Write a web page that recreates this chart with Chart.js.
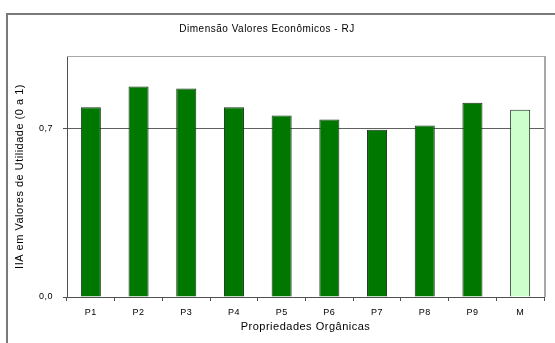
<!DOCTYPE html>
<html>
<head>
<meta charset="utf-8">
<script src="https://cdn.jsdelivr.net/npm/chart.js@4"></script>
<style>
  html, body { margin: 0; padding: 0; background: #fff; }
  #chart { display: block; }
</style>
</head>
<body>
<canvas id="chart" width="555" height="343"></canvas>
<script>
// Data
const categories = ['P1', 'P2', 'P3', 'P4', 'P5', 'P6', 'P7', 'P8', 'P9', 'M'];
const values = [0.787, 0.873, 0.865, 0.787, 0.753, 0.736, 0.694, 0.712, 0.806, 0.777];
const yTicks = [0, 0.7];
const yMax = 1;

const titleText = 'Dimensão Valores Econômicos - RJ';
const xTitle = 'Propriedades Orgânicas';
const yTitle = 'IIA em Valores de Utilidade (0 a 1)';

const FONT = "'Liberation Sans', Arial, sans-serif";
const AXIS = '#505050';

// frame + title, drawn around the plot
const framePlugin = {
  id: 'frame',
  beforeInit(chart) {
    // the old Excel bitmap text is a bit spaced out
    chart.ctx.letterSpacing = '0.5px';
  },
  beforeDraw(chart) {
    const ctx = chart.ctx;
    ctx.letterSpacing = '0.5px';
    ctx.save();
    ctx.fillStyle = '#fff';
    ctx.fillRect(0, 0, chart.width, chart.height);
    ctx.strokeStyle = '#7a7a7a';
    ctx.lineWidth = 2;
    ctx.strokeRect(7, 14, 700, 500);
    ctx.restore();
  },
  afterDatasetsDraw(chart) {
    const ctx = chart.ctx;
    const a = chart.chartArea;
    ctx.save();
    ctx.strokeStyle = '#a8a8a8';
    ctx.lineWidth = 1;
    ctx.beginPath();
    ctx.moveTo(a.left, a.top + 0.5);
    ctx.lineTo(a.right, a.top + 0.5);
    ctx.stroke();
    ctx.lineWidth = 2;
    ctx.beginPath();
    ctx.moveTo(a.right + 1, a.top);
    ctx.lineTo(a.right + 1, a.bottom);
    ctx.stroke();
    ctx.fillStyle = '#000';
    ctx.font = '10px ' + FONT;
    ctx.textAlign = 'center';
    ctx.textBaseline = 'middle';
    ctx.fillText(titleText, 267, 29);
    ctx.restore();
  }
};

new Chart(document.getElementById('chart'), {
  type: 'bar',
  data: {
    labels: categories,
    datasets: [{
      data: values,
      backgroundColor: categories.map(c => c === 'M' ? '#ccffcc' : '#007800'),
      borderColor: '#1a301a',
      borderWidth: 1,
      barPercentage: 0.42,
      categoryPercentage: 1
    }]
  },
  options: {
    responsive: false,
    animation: false,
    devicePixelRatio: 1,
    layout: { padding: { left: 6, top: 56, right: 11, bottom: 9 } },
    plugins: {
      legend: { display: false },
      title: { display: false },
      tooltip: { enabled: false }
    },
    scales: {
      x: {
        offset: true,
        grid: {
          offset: true,
          drawOnChartArea: false,
          drawTicks: true,
          tickLength: 4,
          tickColor: AXIS
        },
        border: { color: AXIS, width: 1 },
        ticks: {
          color: '#000',
          font: { family: FONT, size: 9 },
          padding: 6,
          maxRotation: 0
        },
        title: {
          display: true,
          text: xTitle,
          color: '#000',
          font: { family: FONT, size: 11 },
          padding: { top: 2, bottom: 0 }
        },
        afterFit(scale) { scale.height = 37; }
      },
      y: {
        min: 0,
        max: yMax,
        afterBuildTicks(scale) {
          scale.ticks = yTicks.map(v => ({ value: v }));
        },
        grid: {
          color: ctx => (ctx.tick && ctx.tick.value === 0.7) ? '#606060' : 'rgba(0,0,0,0)',
          tickColor: AXIS,
          tickLength: 4,
          drawTicks: true
        },
        border: { color: AXIS, width: 1 },
        ticks: {
          color: '#000',
          font: { family: FONT, size: 9 },
          padding: 10,
          callback: v => Number(v).toFixed(1).replace('.', ',')
        },
        title: {
          display: true,
          text: yTitle,
          color: '#000',
          font: { family: FONT, size: 11 },
          padding: { top: 7, bottom: 0 }
        },
        afterFit(scale) { scale.width = 61; }
      }
    }
  },
  plugins: [framePlugin]
});
</script>
</body>
</html>
